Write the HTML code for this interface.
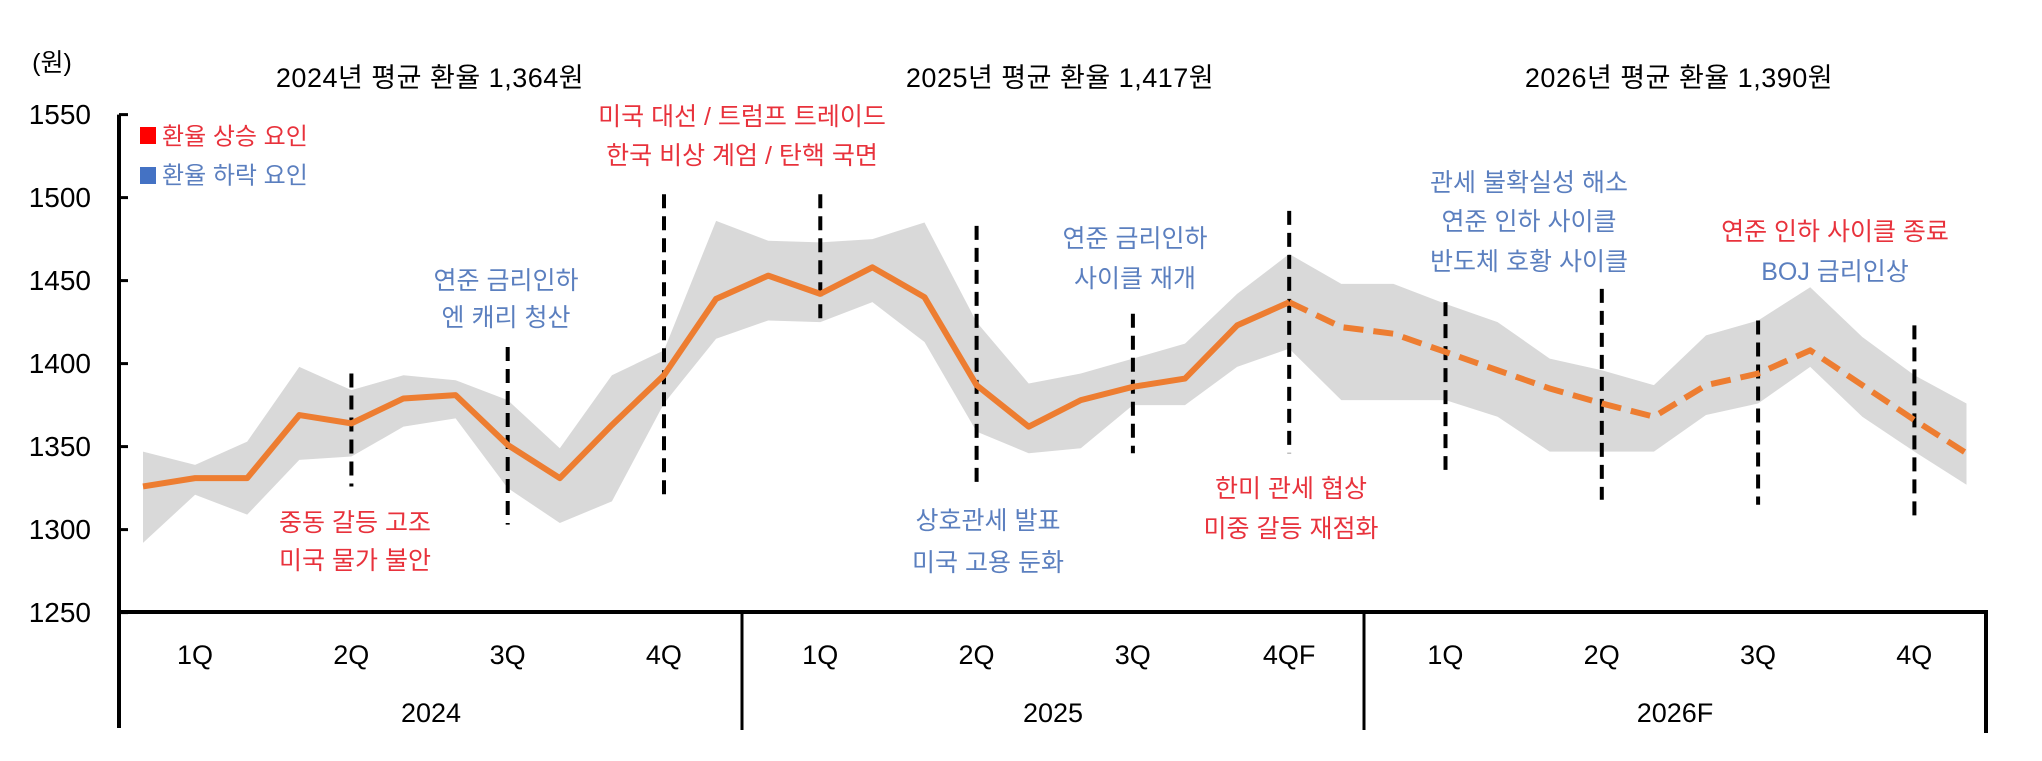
<!DOCTYPE html>
<html><head><meta charset="utf-8"><style>
html,body{margin:0;padding:0;background:#fff}
svg{display:block}
text{font-family:"Liberation Sans","Noto Sans CJK KR",sans-serif}
</style></head><body>
<svg id="c" width="2042" height="761" viewBox="0 0 2042 761"></svg>
<script>
const months = Array.from({length:36},(_,i)=>i);
const rateValues = [1326,1331,1331,1369,1364,1379,1381,1351,1331,1363,1393,1439,1453,1442,1458,1440,1387,1362,1378,1386,1391,1423,1437,1422,1418,1407,1396,1385,1376,1368,1387,1394,1408,1387,1366,1346];
const bandUpper = [1347,1339,1353,1398,1384,1393,1390,1378,1349,1393,1408,1486,1474,1473,1475,1485,1425,1388,1394,1403,1412,1442,1466,1448,1448,1436,1425,1403,1396,1387,1417,1426,1446,1416,1393,1376];
const bandLower = [1292,1321,1309,1342,1344,1362,1367,1325,1304,1317,1376,1415,1426,1425,1437,1413,1359,1346,1349,1375,1375,1398,1409,1378,1378,1378,1368,1347,1347,1347,1369,1376,1398,1368,1347,1327];
const forecastStart = 22;
const yTicks = [1250,1300,1350,1400,1450,1500,1550];
const quarterLabels = ["1Q","2Q","3Q","4Q","1Q","2Q","3Q","4QF","1Q","2Q","3Q","4Q"];
const yearLabels = ["2024","2025","2026F"];
const vlineMonths = [4,7,10,13,16,19,22,25,28,31,34];
const vlineTop = [1394,1410,1502,1502,1483,1430,1492,1437,1445,1426,1423];
const vlineBottom = [1326,1303,1318,1423,1327,1346,1346,1336,1318,1315,1308];

const NS="http://www.w3.org/2000/svg";
const svg=document.getElementById('c');
const x=i=>143+52.1*i;
const y=v=>612.6-(v-1250)*1.66;
function el(tag,attrs,parent){const e=document.createElementNS(NS,tag);for(const k in attrs)e.setAttribute(k,attrs[k]);(parent||svg).appendChild(e);return e;}
function txt(s,cx,cy,opt){const e=el('text',Object.assign({x:cx,y:cy,'text-anchor':'middle','dominant-baseline':'central','font-size':22,fill:'#000'},opt||{}));e.textContent=s;return e;}

let d='M'+months.map(i=>x(i)+','+y(bandUpper[i])).join('L')+'L'+months.slice().reverse().map(i=>x(i)+','+y(bandLower[i])).join('L')+'Z';
const band=el('path',{d:d,fill:'#d9d9d9'});



vlineMonths.forEach((m,k)=>{
  const l=el('line',{x1:x(m),x2:x(m),y1:y(vlineTop[k]),y2:y(vlineBottom[k]),stroke:'#000','stroke-width':4,'stroke-dasharray':'14 8'});
  
  
});

const act=months.filter(i=>i<=forecastStart);
const fc=months.filter(i=>i>=forecastStart);
const la=el('polyline',{points:act.map(i=>x(i)+','+y(rateValues[i])).join(' '),fill:'none',stroke:'#ED7D31','stroke-width':6,'stroke-linejoin':'round'});


const lf=el('polyline',{points:fc.map(i=>x(i)+','+y(rateValues[i])).join(' '),fill:'none',stroke:'#ED7D31','stroke-width':6,'stroke-dasharray':'20 10','stroke-linejoin':'round'});



const ax=el('g',{});


el('line',{x1:119,x2:119,y1:y(1550),y2:728,stroke:'#000','stroke-width':4},ax);
el('line',{x1:117,x2:1988,y1:612,y2:612,stroke:'#000','stroke-width':4},ax);
el('line',{x1:742,x2:742,y1:612,y2:730,stroke:'#000','stroke-width':3},ax);
el('line',{x1:1364,x2:1364,y1:612,y2:730,stroke:'#000','stroke-width':3},ax);
el('line',{x1:1986,x2:1986,y1:612,y2:733,stroke:'#000','stroke-width':4},ax);
yTicks.forEach(v=>{
  el('line',{x1:119,x2:128,y1:y(v),y2:y(v),stroke:'#000','stroke-width':3},ax);
  const t=txt(String(v),91,y(v),{'text-anchor':'end','font-size':28});
  
  
});
quarterLabels.forEach((q,k)=>{
  const t=txt(q,195+156.3*k,655,{'font-size':27});
  
  
});
[431,1053,1675].forEach((cx,k)=>{
  const t=txt(yearLabels[k],cx,713,{'font-size':27});
  
  
});
const yu=txt('(원)',52,63,{'font-size':25});


</script>
<svg width="2042" height="761" style="position:absolute;left:0;top:0">
<g font-family="Liberation Sans, Noto Sans CJK KR, sans-serif" text-anchor="middle" dominant-baseline="central">
<text x="430" y="78" font-size="27" letter-spacing="0.5">2024년 평균 환율 1,364원</text>
<text x="1060" y="78" font-size="27" letter-spacing="0.5">2025년 평균 환율 1,417원</text>
<text x="1679" y="78" font-size="27" letter-spacing="0.5">2026년 평균 환율 1,390원</text>
<rect x="140" y="127" width="16" height="17" fill="#ff0000"/>
<text x="162" y="137" font-size="24" fill="#e8323c" text-anchor="start">환율 상승 요인</text>
<rect x="140" y="167" width="16" height="17" fill="#4472c4"/>
<text x="162" y="176" font-size="24" fill="#5b7fbf" text-anchor="start">환율 하락 요인</text>
<g font-size="25" fill="#e8323c">
<text x="742" y="117">미국 대선 / 트럼프 트레이드</text><text x="742" y="156">한국 비상 계엄 / 탄핵 국면</text>
<text x="355" y="523">중동 갈등 고조</text><text x="355" y="561">미국 물가 불안</text>
<text x="1291" y="489">한미 관세 협상</text><text x="1291" y="529">미중 갈등 재점화</text>
<text x="1835" y="232">연준 인하 사이클 종료</text>
</g>
<g font-size="25" fill="#5b7fbf">
<text x="506" y="281">연준 금리인하</text><text x="506" y="318">엔 캐리 청산</text>
<text x="988" y="521">상호관세 발표</text><text x="988" y="563">미국 고용 둔화</text>
<text x="1135" y="239">연준 금리인하</text><text x="1135" y="279">사이클 재개</text>
<text x="1529" y="183">관세 불확실성 해소</text><text x="1529" y="222">연준 인하 사이클</text><text x="1529" y="262">반도체 호황 사이클</text>
<text x="1835" y="272">BOJ 금리인상</text>
</g>
</g>
</svg>
</body></html>
